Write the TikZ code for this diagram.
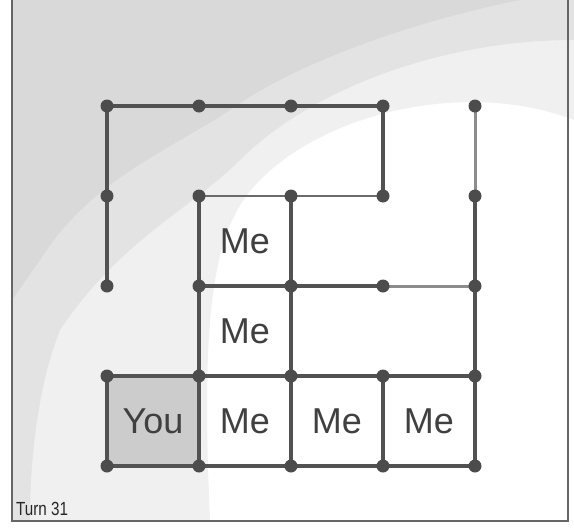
\documentclass[tikz,border=0pt]{standalone}
\usepackage{fontspec}
\setmainfont{Liberation Sans}
\usetikzlibrary{calc}
\begin{document}
\begin{tikzpicture}[x=1pt,y=-1pt,
  edge/.style={draw=black!68,line width=3.6pt},
  thinedge/.style={draw=black!58,line width=2.4pt},
  lightedge/.style={draw=black!45,line width=3pt},
  dot/.style={circle,fill=black!70,inner sep=0pt,minimum size=13pt},
  owner/.style={font=\fontsize{36}{36}\selectfont,text=black!75},
  frameline/.style={draw=black!60,line width=2.6pt}]
\useasboundingbox (0,0) rectangle (574,528);
\fill[white] (0,0) rectangle (574,528);
% scanned grey background (light speckle areas)
\fill[black!6] (12,0) -- (574,0) -- (574,120) .. controls (470,80) and (330,110) .. (260,180)
  .. controls (215,225) and (200,300) .. (210,520) -- (12,520) -- cycle;
\fill[black!11] (12,0) -- (574,0) -- (574,40) .. controls (440,40) and (310,90) .. (240,160)
  .. controls (190,210) and (120,240) .. (60,330) .. controls (40,380) and (30,450) .. (30,520) -- (12,520) -- cycle;
\fill[black!15] (12,0) -- (520,0) .. controls (420,20) and (300,60) .. (230,110)
  .. controls (170,150) and (90,180) .. (40,260) -- (12,300) -- cycle;
% frame
\draw[frameline] (12,0) -- (12,521) -- (568,521) -- (568,0);
% grid coordinates
\foreach \i in {0,...,4}{
  \foreach \j in {0,...,4}{
    \coordinate (p-\i-\j) at (107+92*\i,106+90*\j);
  }
}
% claimed box
\fill[black!20] (p-0-3) rectangle (p-1-4);
% edges
\draw[edge] (p-0-0) -- (p-1-0) -- (p-2-0) -- (p-3-0);
\draw[edge] (p-0-0) -- (p-0-1) -- (p-0-2);
\draw[edge] (p-3-0) -- (p-3-1);
\draw[lightedge] (p-4-0) -- (p-4-1);
\draw[edge] (p-4-1) -- (p-4-2) -- (p-4-3) -- (p-4-4);
\draw[thinedge] (p-1-1) -- (p-2-1);
\draw[thinedge] (p-2-1) -- (p-3-1);
\draw[edge] (p-1-1) -- (p-1-2) -- (p-1-3) -- (p-1-4);
\draw[edge] (p-2-1) -- (p-2-2) -- (p-2-3) -- (p-2-4);
\draw[edge] (p-1-2) -- (p-2-2) -- (p-3-2);
\draw[lightedge] (p-3-2) -- (p-4-2);
\draw[edge] (p-0-3) -- (p-1-3) -- (p-2-3) -- (p-3-3) -- (p-4-3);
\draw[edge] (p-0-3) -- (p-0-4);
\draw[edge] (p-3-3) -- (p-3-4);
\draw[edge] (p-0-4) -- (p-1-4) -- (p-2-4) -- (p-3-4) -- (p-4-4);
% dots
\foreach \i in {0,...,4}{
  \foreach \j in {0,...,4}{
    \node[dot] (d-\i-\j) at (p-\i-\j) {};
  }
}
% owners
\node[owner] (b11) at ($(p-1-1)!0.5!(p-2-2)$) {Me};
\node[owner] (b12) at ($(p-1-2)!0.5!(p-2-3)$) {Me};
\node[owner] (b03) at ($(p-0-3)!0.5!(p-1-4)$) {You};
\node[owner] (b13) at ($(p-1-3)!0.5!(p-2-4)$) {Me};
\node[owner] (b23) at ($(p-2-3)!0.5!(p-3-4)$) {Me};
\node[owner] (b33) at ($(p-3-3)!0.5!(p-4-4)$) {Me};
% turn label
\node[anchor=south west,inner sep=0pt,font=\fontsize{19}{19}\selectfont,text=black!85,xscale=0.8] (turn) at (16,516) {Turn 31};
\end{tikzpicture}
\end{document}
